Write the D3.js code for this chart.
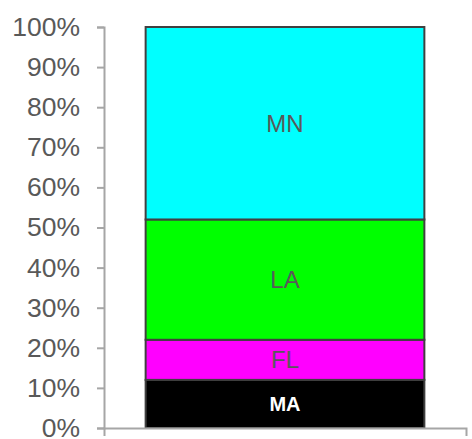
<!DOCTYPE html>
<html>
<head>
<meta charset="utf-8">
<script src="https://cdn.jsdelivr.net/npm/d3@7"></script>
<style>
  body { margin: 0; background: #fff; }
  text { font-family: "Liberation Sans", Arial, sans-serif; }
</style>
</head>
<body>
<div class="chart-area"></div>
<script>
const width = 472
const height = 439
const margin = { top: 27, right: 6, bottom: 11, left: 104 }

// data
const categories = ['Total']
const seriesNames = ['MA', 'FL', 'LA', 'MN']
const seriesValues = [12, 10, 30, 48]
const seriesColors = ['#000000', '#ff00ff', '#00ff00', '#00ffff']
const labelColors = ['#ffffff', '#595959', '#595959', '#595959']
const yTicks = [0, 10, 20, 30, 40, 50, 60, 70, 80, 90, 100]

const svg = d3.select('div.chart-area')
  .append('svg')
  .attr('width', width)
  .attr('height', height)

const x = d3.scaleBand()
  .domain(categories)
  .range([margin.left, width - margin.right])
  .paddingInner(0.23)
  .paddingOuter(0.115)

const y = d3.scaleLinear()
  .domain([0, 100])
  .range([height - margin.bottom, margin.top])

// stack the single column
const row = { cat: categories[0] }
seriesNames.forEach((name, i) => { row[name] = seriesValues[i] })
const stacked = d3.stack().keys(seriesNames)([row])

const barG = svg.append('g')
stacked.forEach((layer, i) => {
  const d = layer[0]
  barG.append('rect')
    .attr('x', x(d.data.cat))
    .attr('y', y(d[1]))
    .attr('width', x.bandwidth())
    .attr('height', y(d[0]) - y(d[1]))
    .attr('fill', seriesColors[i])
    .attr('stroke', '#404040')
    .attr('stroke-width', 2)

  barG.append('text')
    .attr('x', x(d.data.cat) + x.bandwidth() / 2)
    .attr('y', (y(d[0]) + y(d[1])) / 2)
    .attr('text-anchor', 'middle')
    .attr('dominant-baseline', 'central')
    .attr('fill', labelColors[i])
    .attr('font-size', i === 0 ? 20 : 24)
    .attr('font-weight', i === 0 ? 'bold' : 'normal')
    .text(layer.key)
})

// y axis
const yAxis = svg.append('g')
  .attr('transform', `translate(${margin.left},0)`)
  .call(d3.axisLeft(y).tickValues(yTicks).tickFormat(d => d + '%').tickSize(7).tickPadding(17))
yAxis.select('.domain').attr('stroke', '#a6a6a6').attr('stroke-width', 2)
yAxis.selectAll('.tick line').attr('stroke', '#a6a6a6').attr('stroke-width', 2)
yAxis.selectAll('.tick text')
  .attr('fill', '#595959')
  .attr('font-size', 26.5)
  .attr('font-family', '"Liberation Sans", Arial, sans-serif')

// x axis: line with end ticks only
const xAxis = svg.append('g')
  .attr('transform', `translate(0,${y(0)})`)
  .call(d3.axisBottom(x).tickValues([]).tickSizeOuter(8))
xAxis.select('.domain').attr('stroke', '#a6a6a6').attr('stroke-width', 2)
</script>
</body>
</html>
